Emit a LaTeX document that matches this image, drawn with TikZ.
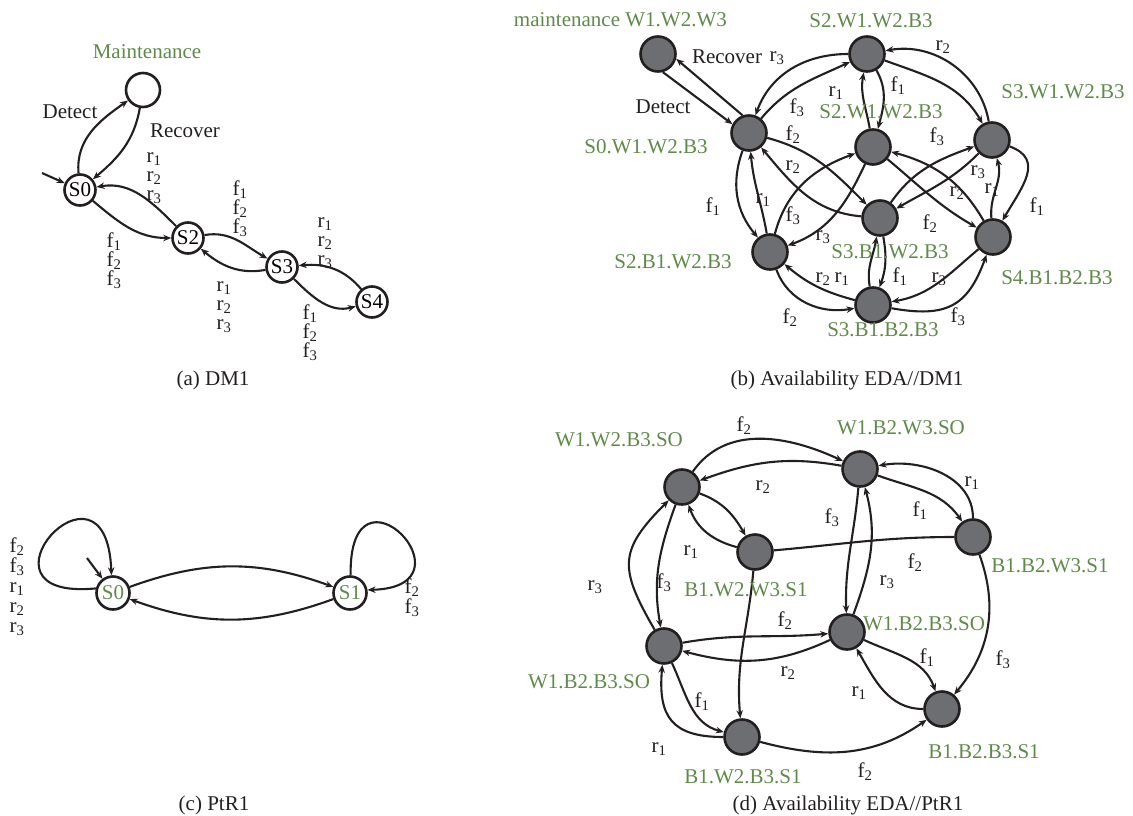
\documentclass[tikz,border=0pt]{standalone}
\usepackage{fontspec}
\setmainfont{Liberation Serif}
\usetikzlibrary{arrows.meta}
\definecolor{grn}{RGB}{94,139,72}
\definecolor{dgray}{RGB}{109,110,114}
\definecolor{ink}{RGB}{35,31,32}
\newcommand\lb[2]{#1\textsubscript{#2}}
\begin{document}
\begin{tikzpicture}[x=1pt,y=-1pt,
 font=\fontsize{21}{24}\selectfont,
 wst/.style={circle,draw=ink,line width=2.6pt,fill=white,minimum size=31pt,inner sep=0pt},
 gst/.style={circle,draw=ink,line width=2.6pt,fill=dgray,minimum size=35pt,inner sep=0pt},
 conn/.style={draw=ink,line width=2.1pt,-{Stealth[length=8pt,width=6.5pt]}},
 lnk/.style={draw=ink,line width=2.1pt},
 gl/.style={text=grn,inner sep=0pt},
 tl/.style={text=ink,inner sep=0pt},
 stk/.style={text=ink,inner sep=0pt,align=left,font=\fontsize{21}{19}\selectfont}]
\useasboundingbox (0,0) rectangle (1133,816);

% ---------------- (a) DM1 ----------------
\node[wst] (a0) at (80,190) {S0};
\node[wst] (a2) at (188,238) {S2};
\node[wst] (a3) at (282,267) {S3};
\node[wst] (a4) at (372,302) {S4};
\node[wst,minimum size=34pt] (am) at (143,90) {};
\node[gl] (amt) at (147,52) {Maintenance};
\coordinate (ai) at (42,173);
\draw[conn] (ai) -- (a0);
\draw[conn] (a0) to[out=95,in=215] (am);
\draw[conn] (am) to[out=260,in=40] (a0);
\draw[conn] (a2) to[out=135,in=10] (a0);
\draw[conn] (a0) to[out=-40,in=180] (a2);
\draw[conn] (a2) to[out=10,in=150] (a3);
\draw[conn] (a3) to[out=190,in=-40] (a2);
\draw[conn] (a4) to[out=130,in=5] (a3);
\draw[conn] (a3) to[out=-45,in=195] (a4);
\node[tl] (adet) at (70,112) {Detect};
\node[tl] (arec) at (185,131) {Recover};
\node[stk] (as1) at (154,178) {\lb r1\\\lb r2\\\lb r3};
\node[stk] (as2) at (114,261) {\lb f1\\\lb f2\\\lb f3};
\node[stk] (as3) at (240,209) {\lb f1\\\lb f2\\\lb f3};
\node[stk] (as4) at (224,307) {\lb r1\\\lb r2\\\lb r3};
\node[stk] (as5) at (325,243) {\lb r1\\\lb r2\\\lb r3};
\node[stk] (as6) at (310,333) {\lb f1\\\lb f2\\\lb f3};
\node[tl] (acap) at (213,380) {(a) DM1};

% ---------------- (b) Availability EDA//DM1 ----------------
\node[gst] (bM) at (658,54) {};
\node[gst] (bA) at (749,133) {};
\node[gst] (bT) at (867,54) {};
\node[gst] (bI) at (873,147) {};
\node[gst] (bR) at (992,140) {};
\node[gst] (bC) at (880,218) {};
\node[gst] (bL) at (770,252) {};
\node[gst] (bQ) at (993,237) {};
\node[gst] (bB) at (873,305) {};

\draw[conn] (bA.110) -- (bM.-15);
\draw[conn] (bM.-75) -- (bA.152);
\draw[conn] (bT) to[out=180,in=70] (bA);
\draw[conn] (bA) to[out=50,in=205] (bT);
\draw[conn] (bA) to[out=-15,in=135] (bC);
\draw[conn] (bC) to[out=175,in=-50] (bA);
\draw[conn] (bA) to[out=-110,in=130] (bL);
\draw[conn] (bL) to[out=100,in=-85] (bA);
\draw[conn] (bL) to[out=75,in=200] (bI);
\draw[conn] (bI) to[out=-115,in=20] (bL);
\draw[conn] (bL) to[out=-70,in=190] (bB);
\draw[conn] (bB) to[out=165,in=-40] (bL);
\draw[conn] (bB) to[out=100,in=-100] (bC);
\draw[conn] (bC) to[out=-80,in=70] (bB);
\draw[conn] (bQ) to[out=220,in=10] (bB);
\draw[conn] (bB) to[out=-10,in=-110,looseness=1.3] (bQ);
\draw[conn] (bI) to[out=-40,in=150] (bQ);
\draw[conn] (bQ) to[out=120,in=-15] (bI);
\draw[conn] (bC) to[out=55,in=200] (bR);
\draw[conn] (bR) to[out=225,in=30] (bC);
\draw[conn] (bQ) to[out=95,in=-75] (bR);
\draw[conn] (bR) to[out=-20,in=60,looseness=1.3] (bQ);
\draw[conn] (bT) to[out=-60,in=75] (bI);
\draw[conn] (bI) to[out=100,in=-100] (bT);
\draw[conn] (bT) to[out=-20,in=120] (bR);
\draw[conn] (bR) to[out=100,in=10] (bT);

\node[gl,anchor=east] (blM) at (727,20) {maintenance W1.W2.W3};
\node[gl] (blT) at (871,21) {S2.W1.W2.B3};
\node[gl] (blA) at (646,147) {S0.W1.W2.B3};
\node[gl] (blI) at (881,112) {S2.W1.W2.B3};
\node[gl] (blR) at (1063,92) {S3.W1.W2.B3};
\node[gl] (blL) at (673,262) {S2.B1.W2.B3};
\node[gl] (blC) at (890,252) {S3.B1.W2.B3};
\node[gl] (blQ) at (1057,278) {S4.B1.B2.B3};
\node[gl] (blB) at (883,330) {S3.B1.B2.B3};

\node[tl] (bdet) at (663,107) {Detect};
\node[tl] (brec) at (727,57) {Recover};
\node[tl] at (777,58) {\lb r3};
\node[tl] at (797,108) {\lb f3};
\node[tl] at (836,93) {\lb r1};
\node[tl] at (898,86) {\lb f1};
\node[tl] at (943,47) {\lb r2};
\node[tl] at (793,135) {\lb f2};
\node[tl] at (793,167) {\lb r2};
\node[tl] at (713,207) {\lb f1};
\node[tl] at (763,200) {\lb r1};
\node[tl] at (793,216) {\lb f3};
\node[tl] at (823,237) {\lb r3};
\node[tl] at (937,137) {\lb f3};
\node[tl] at (978,172) {\lb r3};
\node[tl] at (957,193) {\lb r2};
\node[tl] at (992,190) {\lb r1};
\node[tl] at (930,224) {\lb f2};
\node[tl] at (1037,207) {\lb f1};
\node[tl] at (823,279) {\lb r2};
\node[tl] at (842,279) {\lb r1};
\node[tl] at (900,277) {\lb f1};
\node[tl] at (939,279) {\lb r3};
\node[tl] at (790,318) {\lb f2};
\node[tl] at (958,317) {\lb f3};
\node[tl] (bcap) at (847,380) {(b) Availability EDA//DM1};

% ---------------- (c) PtR1 ----------------
\node[wst,minimum size=33pt,text=grn] (cS0) at (113,593) {S0};
\node[wst,minimum size=33pt,text=grn] (cS1) at (350,593) {S1};
\coordinate (ci) at (87,558);
\draw[conn] (ci) -- (cS0);
\draw[conn] (cS0.165) .. controls +(-135,13) and +(-5,-136) .. (cS0.95);
\draw[conn] (cS1.88) .. controls +(-2,-126) and +(113,-3) .. (cS1.10);
\draw[conn] (cS0) to[out=20,in=160] (cS1);
\draw[conn] (cS1) to[out=200,in=-20] (cS0);
\node[stk,font=\fontsize{21}{20}\selectfont] (cl1) at (17,587) {\lb f2\\\lb f3\\\lb r1\\\lb r2\\\lb r3};
\node[stk,font=\fontsize{21}{20}\selectfont] (cl2) at (412,598) {\lb f2\\\lb f3};
\node[tl] (ccap) at (214,805) {(c) PtR1};

% ---------------- (d) Availability EDA//PtR1 ----------------
\node[gst] (dP) at (682,487) {};
\node[gst] (dQ) at (860,469) {};
\node[gst] (dU) at (755,552) {};
\node[gst] (dV) at (973,537) {};
\node[gst] (dX) at (664,646) {};
\node[gst] (dY) at (847,632) {};
\node[gst] (dZ) at (742,737) {};
\node[gst] (dK) at (942,709) {};

\draw[conn] (dP) to[out=55,in=155] (dQ);
\draw[conn] (dQ) to[out=170,in=20] (dP);
\draw[conn] (dP) to[out=-20,in=120] (dU);
\draw[conn] (dU) to[out=165,in=-70] (dP);
\draw[conn] (dX) to[out=120,in=225,looseness=1.4] (dP);
\draw[conn] (dP) to[out=-110,in=100] (dX);
\draw[lnk] (dU) to[out=5,in=180] (dV);
\draw[conn] (dU) to[out=-95,in=95] (dZ);
\draw[conn] (dQ) to[out=-95,in=92] (dY);
\draw[conn] (dY) to[out=70,in=-75] (dQ);
\draw[conn] (dQ) to[out=-20,in=125] (dV);
\draw[conn] (dV) to[out=90,in=10] (dQ);
\draw[conn] (dV) to[out=-70,in=50] (dK);
\draw[conn] (dX) to[out=10,in=185] (dY);
\draw[conn] (dY) to[out=205,in=-15] (dX);
\draw[conn] (dY) to[out=-25,in=110] (dK);
\draw[conn] (dK) to[out=180,in=-60] (dY);
\draw[conn] (dX) to[out=-65,in=165] (dZ);
\draw[conn] (dZ) to[out=180,in=-95,looseness=1.4] (dX);
\draw[conn] (dZ) to[out=-15,in=215] (dK);

\node[gl] at (619,440) {W1.W2.B3.SO};
\node[gl] at (901,428) {W1.B2.W3.SO};
\node[gl] at (746,590) {B1.W2.W3.S1};
\node[gl] at (1050,566) {B1.B2.W3.S1};
\node[gl] at (589,682) {W1.B2.B3.SO};
\node[gl] at (924,624) {W1.B2.B3.SO};
\node[gl] at (743,777) {B1.W2.B3.S1};
\node[gl] at (984,752) {B1.B2.B3.S1};

\node[tl] at (744,426) {\lb f2};
\node[tl] at (763,487) {\lb r2};
\node[tl] at (832,518) {\lb f3};
\node[tl] at (691,552) {\lb r1};
\node[tl] at (595,587) {\lb r3};
\node[tl] at (664,583) {\lb f3};
\node[tl] at (785,621) {\lb f2};
\node[tl] at (972,483) {\lb r1};
\node[tl] at (920,511) {\lb f1};
\node[tl] at (915,563) {\lb f2};
\node[tl] at (887,582) {\lb r3};
\node[tl] at (788,673) {\lb r2};
\node[tl] at (702,702) {\lb f1};
\node[tl] at (659,749) {\lb r1};
\node[tl] at (927,658) {\lb f1};
\node[tl] at (1003,660) {\lb f3};
\node[tl] at (859,693) {\lb r1};
\node[tl] at (865,772) {\lb f2};
\node[tl] (dcap) at (848,805) {(d) Availability EDA//PtR1};
\end{tikzpicture}
\end{document}
